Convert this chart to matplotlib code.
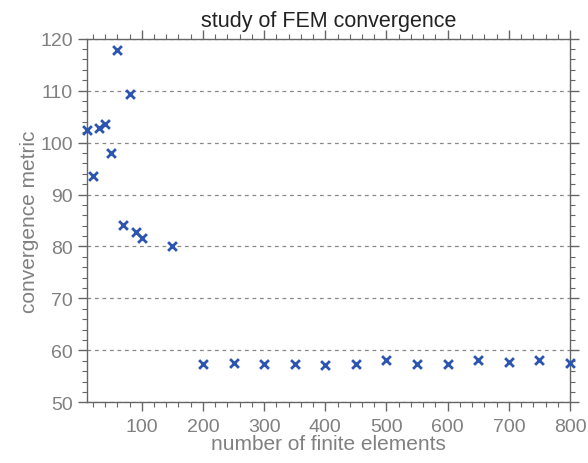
import matplotlib.pyplot as plt
from matplotlib.ticker import MultipleLocator

plt.rcParams['font.family'] = ['Liberation Sans', 'DejaVu Sans']

# number of finite elements vs convergence metric
n_elements = [10, 20, 30, 40, 50, 60, 70, 80, 90, 100, 150,
              200, 250, 300, 350, 400, 450, 500, 550, 600, 650, 700, 750, 800]
metric = [102.5, 93.6, 102.9, 103.6, 97.9, 117.8, 84.1, 109.3, 82.8, 81.6, 80.1,
          57.4, 57.5, 57.3, 57.4, 57.2, 57.3, 58.2, 57.4, 57.4, 58.2, 57.7, 58.2, 57.6]

text_gray = '#808080'
axis_gray = '#666666'

fig = plt.figure(figsize=(5.88, 4.64), dpi=100)
ax = fig.add_axes([86.7 / 588, 1 - 403.3 / 464, (570 - 86.7) / 588, (403.3 - 39.7) / 464])

ax.scatter(n_elements, metric, marker='x', s=40, linewidths=2.0, color='#2b55b0',
           zorder=3, clip_on=False)

ax.set_xlim(10, 800)
ax.set_ylim(50, 120)
ax.xaxis.set_major_locator(MultipleLocator(100))
ax.xaxis.set_minor_locator(MultipleLocator(20))
ax.yaxis.set_major_locator(MultipleLocator(10))
ax.yaxis.set_minor_locator(MultipleLocator(2))

ax.grid(True, axis='y', which='major', linestyle=(0, (3, 3)), color='#888888', linewidth=0.9)

for s in ax.spines.values():
    s.set_color(axis_gray)
    s.set_linewidth(1.0)

ax.tick_params(which='both', direction='out', top=True, right=True, color=axis_gray,
               labelcolor=text_gray, labelsize=14)
ax.tick_params(which='major', length=6.5, width=1.0)
ax.tick_params(which='minor', length=3.5, width=0.8)
ax.tick_params(axis='x', which='major', pad=5)
ax.tick_params(axis='y', which='major', pad=3.5)

ax.set_xlabel('number of finite elements', fontsize=15, color=text_gray, labelpad=-1)
ax.set_ylabel('convergence metric', fontsize=15, color=text_gray, labelpad=1)
ax.set_title('study of FEM convergence', fontsize=15.5, color='#222222', pad=9)

fig.savefig('out.png', dpi=100)
